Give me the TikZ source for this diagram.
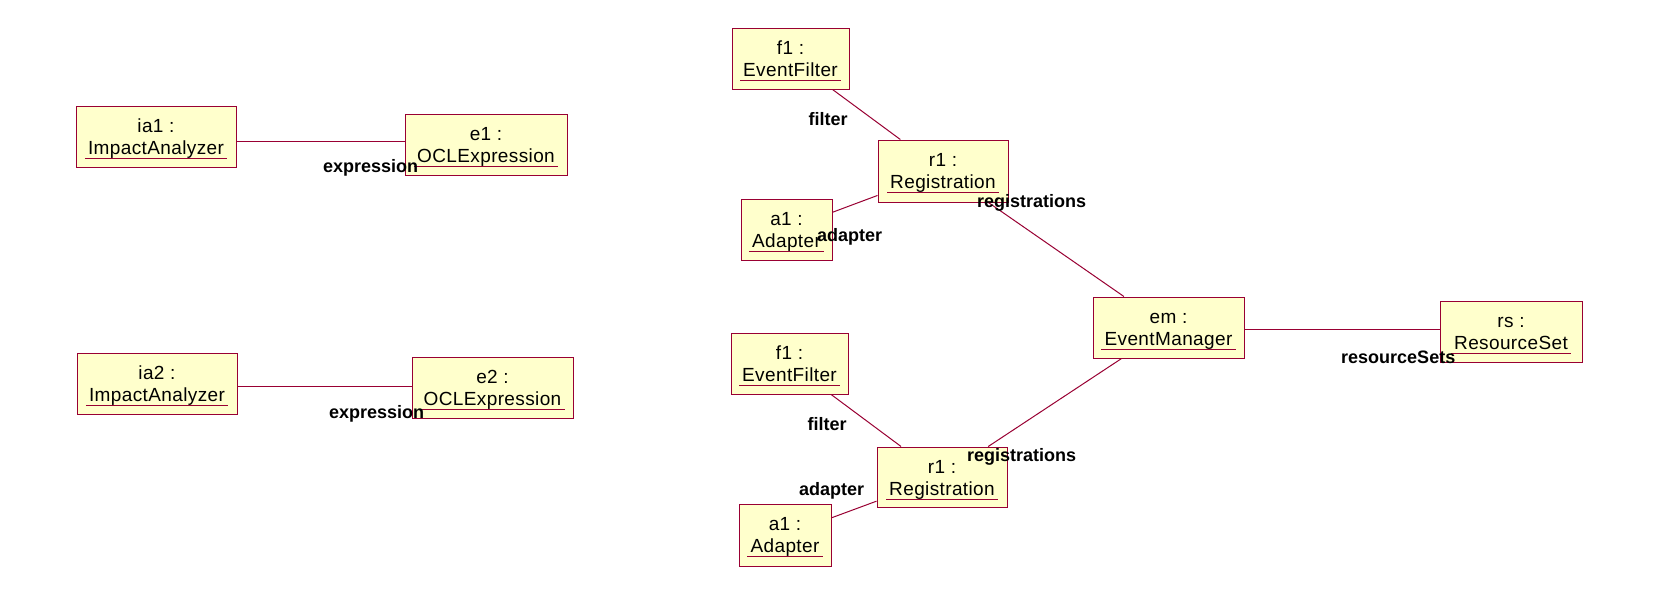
\documentclass[tikz,border=0pt]{standalone}
\usepackage{fontspec}
\setmainfont{Liberation Sans}
\newfontfamily\objfont[LetterSpace=2]{Liberation Sans}
\definecolor{umlred}{HTML}{990033}
\definecolor{umlfill}{HTML}{FFFFCC}
\tikzset{
  objbox/.style={draw=umlred, fill=umlfill, line width=1pt, inner sep=0pt},
  objtext/.style={inner sep=0pt, font=\objfont\fontsize{19}{23}\selectfont},
  rolelabel/.style={inner sep=0pt, anchor=base west, font=\bfseries\fontsize{18}{22}\selectfont},
  conn/.style={draw=umlred, line width=1pt},
  ulline/.style={draw=umlred, line width=1pt},
}
\newcommand\umlobj[7]{%
  \node[objbox, minimum width=#4pt, minimum height=#5pt] (#1) at (#2,#3) {};
  \node[objtext, anchor=base] (#1-n) at ([yshift=-26.5pt]#1.north) {#6};
  \node[objtext, anchor=base] (#1-c) at ([yshift=-48.5pt]#1.north) {#7};
  \draw[ulline] ([shift={(-3pt,-4.5pt)}]#1-c.base west) -- ([shift={(3pt,-4.5pt)}]#1-c.base east);
}
\begin{document}
\begin{tikzpicture}[x=1pt,y=-1pt]
\useasboundingbox[fill=white] (0,0) rectangle (1660,597);
\umlobj{ia1}{156}{136.5}{160}{61}{ia1 :}{ImpactAnalyzer}
\umlobj{e1}{486}{144.5}{162}{61}{e1 :}{OCLExpression}
\umlobj{ia2}{157}{383.5}{160}{61}{ia2 :}{ImpactAnalyzer}
\umlobj{e2}{492.5}{387.5}{161}{61}{e2 :}{OCLExpression}
\umlobj{f1t}{790.5}{58.5}{117}{61}{f1 :}{EventFilter}
\umlobj{r1t}{943}{171}{130}{62}{r1 :}{Registration}
\umlobj{a1t}{786.5}{229.5}{91}{61}{a1 :}{Adapter}
\umlobj{f1b}{789.5}{363.5}{117}{61}{f1 :}{EventFilter}
\umlobj{r1b}{942}{477}{130}{60}{r1 :}{Registration}
\umlobj{a1b}{785}{535}{92}{62}{a1 :}{Adapter}
\umlobj{em}{1168.5}{327.5}{151}{61}{em :}{EventManager}
\umlobj{rs}{1511}{331.5}{142}{61}{rs :}{ResourceSet}
% connectors
\coordinate (h1) at (0,141);
\coordinate (h2) at (0,386);
\coordinate (h3) at (0,329);
\draw[conn] (ia1.east |- h1) -- (e1.west |- h1);
\draw[conn] (ia2.east |- h2) -- (e2.west |- h2);
\draw[conn] (em.east |- h3) -- (rs.west |- h3);
\draw[conn] (f1t) -- (r1t);
\draw[conn] (a1t) -- (r1t);
\draw[conn] (r1t) -- (em);
\draw[conn] (f1b) -- (r1b);
\draw[conn] (a1b) -- (r1b);
\draw[conn] (r1b) -- (em);
% role labels
\node[rolelabel] (lx1) at (323,172) {expression};
\node[rolelabel] (lx2) at (329,418) {expression};
\node[rolelabel] (lf1) at (808.5,125) {filter};
\node[rolelabel] (lf2) at (807.5,430) {filter};
\node[rolelabel] (lr1) at (977,207) {registrations};
\node[rolelabel] (lr2) at (967,461) {registrations};
\node[rolelabel] (la1) at (817,241) {adapter};
\node[rolelabel] (la2) at (799,495) {adapter};
\node[rolelabel] (lrs) at (1341,363) {resourceSets};
\end{tikzpicture}
\end{document}
